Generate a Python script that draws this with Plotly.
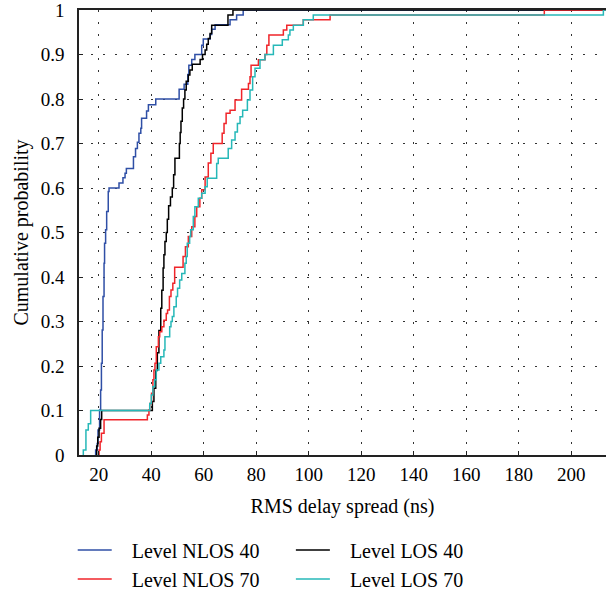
import plotly.graph_objects as go

# ---------------- data ----------------
x_ticks = [20, 40, 60, 80, 100, 120, 140, 160, 180, 200]
y_ticks = [0, 0.1, 0.2, 0.3, 0.4, 0.5, 0.6, 0.7, 0.8, 0.9, 1.0]
y_tick_text = ["0", "0.1", "0.2", "0.3", "0.4", "0.5", "0.6", "0.7", "0.8", "0.9", "1"]
x_range = [12.46, 213.2]
y_range = [0, 1.0]

# Level NLOS 40 (blue): jump positions (ns) and cumulative probability after each jump
nlos40_ns = [18.8, 19.4, 19.7, 20.3, 20.7, 21.0, 21.3, 21.6, 22.0, 22.2, 22.6, 23.0, 23.6, 23.9,
             27.7, 29.2, 30.0, 30.5, 33.2, 34.0, 34.7, 35.3, 36.0, 36.3, 38.2, 38.9, 41.7,
             50.6, 52.5, 53.9, 54.3, 55.4, 56.6, 59.2, 59.8, 62.4, 63.0, 64.3, 70.0, 72.5, 75.0]
nlos40_p = [0.011, 0.026, 0.056, 0.101, 0.146, 0.206, 0.281, 0.356, 0.431, 0.476, 0.506, 0.547, 0.592, 0.600,
            0.611, 0.623, 0.633, 0.644, 0.670, 0.689, 0.703, 0.723, 0.734, 0.757, 0.773, 0.787, 0.800,
            0.822, 0.833, 0.855, 0.876, 0.889, 0.900, 0.921, 0.935, 0.945, 0.957, 0.967, 0.978, 0.989, 1.0]

# Level LOS 40 (black)
los40_ns = [19.2, 19.6, 20.1, 20.7, 21.1, 40.4, 41.0, 41.7, 42.3, 42.9, 43.6, 44.0, 44.5, 44.8, 45.2,
            45.7, 46.1, 46.6, 47.3, 48.0, 48.5, 49.0, 50.7, 51.0, 51.3, 51.8, 52.3, 52.8, 53.3, 54.1,
            54.7, 55.6, 58.6, 59.5, 60.5, 61.1, 61.7, 62.4, 63.0, 69.2, 71.1]
los40_p = [0.02, 0.04, 0.06, 0.08, 0.10, 0.12, 0.15, 0.19, 0.23, 0.28, 0.33, 0.37, 0.42, 0.45, 0.48,
           0.50, 0.53, 0.56, 0.58, 0.60, 0.63, 0.667, 0.70, 0.725, 0.75, 0.78, 0.80, 0.82, 0.84, 0.854,
           0.865, 0.878, 0.889, 0.900, 0.910, 0.923, 0.936, 0.947, 0.966, 0.989, 1.0]

# Level NLOS 70 (red)
nlos70_ns = [20.1, 20.5, 21.0, 22.0, 38.5, 39.1, 39.4, 40.1, 40.6, 41.0, 41.4, 41.9, 42.7, 43.2, 44.0,
             44.8, 45.7, 46.2, 46.9, 47.5, 48.2, 48.9, 52.1, 53.0, 54.1, 55.4, 56.6, 57.3, 58.5, 59.2,
             60.5, 61.7, 62.7, 63.6, 67.0, 67.7, 68.5, 70.0, 71.9, 74.4, 77.0, 77.6, 78.0, 80.8, 83.3,
             84.0, 84.8, 90.3, 91.6, 97.9, 108.1, 189.7]
nlos70_p = [0.011, 0.030, 0.049, 0.079, 0.090, 0.101, 0.116, 0.139, 0.169, 0.191, 0.206, 0.243, 0.266, 0.277, 0.288,
            0.303, 0.318, 0.326, 0.356, 0.371, 0.386, 0.422, 0.446, 0.468, 0.491, 0.513, 0.536, 0.558, 0.577, 0.596,
            0.625, 0.656, 0.678, 0.700, 0.723, 0.745, 0.768, 0.775, 0.798, 0.822, 0.835, 0.850, 0.876, 0.888, 0.900,
            0.921, 0.944, 0.955, 0.966, 0.978, 0.989, 1.0]

# Level LOS 70 (cyan)
los70_ns = [14.1, 15.1, 16.0, 16.9, 39.4, 40.0, 40.6, 41.3, 41.9, 42.9, 43.6, 44.8, 45.2, 47.0, 47.5,
            48.0, 48.6, 49.5, 50.0, 50.8, 51.6, 52.8, 53.3, 53.7, 54.6, 55.0, 56.0, 56.6, 57.9, 59.2,
            60.5, 61.3, 64.9, 65.5, 69.3, 70.6, 71.9, 72.8, 73.8, 74.8, 76.6, 77.6, 78.6, 79.5, 81.4,
            83.3, 86.5, 89.9, 92.2, 92.8, 94.1, 97.9, 101.7, 212.2]
los70_p = [0.011, 0.056, 0.070, 0.100, 0.116, 0.135, 0.154, 0.169, 0.191, 0.206, 0.221, 0.236, 0.266, 0.288, 0.300,
           0.311, 0.333, 0.356, 0.375, 0.393, 0.408, 0.431, 0.446, 0.476, 0.491, 0.506, 0.536, 0.558, 0.577, 0.588,
           0.603, 0.622, 0.655, 0.667, 0.689, 0.708, 0.726, 0.745, 0.760, 0.775, 0.798, 0.820, 0.850, 0.869, 0.888,
           0.900, 0.921, 0.933, 0.944, 0.955, 0.966, 0.978, 0.989, 1.0]

series = [
    ("Level NLOS 40", nlos40_ns, nlos40_p, "#2f4fa6", "legend"),
    ("Level LOS 40", los40_ns, los40_p, "#000000", "legend2"),
    ("Level NLOS 70", nlos70_ns, nlos70_p, "#f0252a", "legend"),
    ("Level LOS 70", los70_ns, los70_p, "#26b8b8", "legend2"),
]

FONT = "Liberation Serif"
NB = "\u00a0\u00a0\u00a0"
fig = go.Figure()
for name, xs, ps, color, leg in series:
    sx = [xs[0]] + list(xs) + [x_range[1]]
    sy = [0.0] + list(ps) + [ps[-1]]
    fig.add_trace(go.Scatter(x=sx, y=sy, mode="lines", name=NB + name, legend=leg,
                             line=dict(color=color, width=1.5, shape="hv")))

W, H = 606, 594
L, R, T, B = 79, 0, 10, 139
grid = dict(showgrid=True, gridcolor="#333", gridwidth=1, griddash="2px,10px")
leg_common = dict(xanchor="left", yanchor="top", orientation="v", xref="container", yref="container",
                  font=dict(size=20), bgcolor="rgba(0,0,0,0)", itemwidth=34, tracegroupgap=0)
fig.update_layout(
    width=W, height=H,
    margin=dict(l=L, r=R, t=T, b=B, autoexpand=False),
    paper_bgcolor="white", plot_bgcolor="white",
    font=dict(family=FONT, size=19, color="black"),
    xaxis=dict(range=x_range, tickvals=x_ticks, ticks="inside", ticklen=4, tickcolor="#222",
               showline=True, linecolor="#222", linewidth=1.5, mirror=True,
               zeroline=False, ticklabelstandoff=1, **grid,
               title=dict(text="RMS delay spread (ns)", font=dict(size=20), standoff=15)),
    yaxis=dict(range=y_range, tickvals=y_ticks, ticktext=y_tick_text, ticks="inside", ticklen=4,
               tickcolor="#222", showline=True, linecolor="#222", linewidth=1.5, mirror=False,
               zeroline=False, ticklabelstandoff=9, ticklabeloverflow="allow", **grid),
    legend=dict(x=0.120, y=0.107, **leg_common),
    legend2=dict(x=0.480, y=0.107, **leg_common),
    showlegend=True,
    annotations=[dict(text="Cumulative probability", textangle=-90, xref="paper", yref="paper",
                      x=-0.110, y=0.5, xanchor="center", yanchor="middle", showarrow=False,
                      font=dict(size=20, family=FONT, color="black"))],
)

fig.write_html("out.html")
